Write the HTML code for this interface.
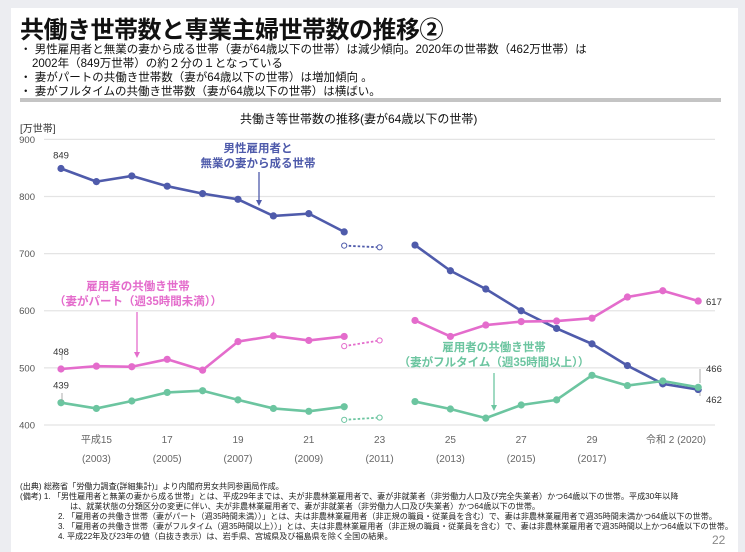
<!DOCTYPE html>
<html><head><meta charset="utf-8">
<style>
body{margin:0;width:745px;height:552px;background:#ecedf1;overflow:hidden;font-family:"Liberation Sans","Noto Sans CJK JP",sans-serif;}
#card{position:absolute;left:11px;top:8px;width:727px;height:544px;background:#fff;}
.abs{position:absolute;white-space:nowrap;}
#title{left:20px;top:10px;font-size:24px;font-weight:bold;color:#111;letter-spacing:-0.5px;}
.b{font-size:11.5px;color:#111;left:20px;}
.n{font-size:8.1px;color:#222;}
</style></head><body>
<div id="card"></div>
<div class="abs" id="title">共働き世帯数と専業主婦世帯数の推移②</div>
<div class="abs b" style="top:41px">・ 男性雇用者と無業の妻から成る世帯（妻が64歳以下の世帯）は減少傾向。2020年の世帯数（462万世帯）は</div>
<div class="abs b" style="top:55px;left:32px">2002年（849万世帯）の約２分の１となっている</div>
<div class="abs b" style="top:69px">・ 妻がパートの共働き世帯数（妻が64歳以下の世帯）は増加傾向 。</div>
<div class="abs b" style="top:83px">・ 妻がフルタイムの共働き世帯数（妻が64歳以下の世帯）は横ばい。</div>
<div class="abs" style="left:20px;top:98px;width:701px;height:4px;background:#c4c4c4"></div>
<div class="abs" style="left:240px;top:110px;font-size:12px;color:#111">共働き等世帯数の推移(妻が64歳以下の世帯)</div>
<div class="abs" style="left:20px;top:120px;font-size:10px;color:#333">[万世帯]</div>

<svg class="abs" style="left:0;top:0" width="745" height="552" id="chart"></svg>

<div class="abs n" style="left:20px;top:481px">(出典) 総務省「労働力調査(詳細集計)」より内閣府男女共同参画局作成。</div>
<div class="abs n" style="left:20px;top:491px">(備考)  1.  「男性雇用者と無業の妻から成る世帯」とは、平成29年までは、夫が非農林業雇用者で、妻が非就業者（非労働力人口及び完全失業者）かつ64歳以下の世帯。平成30年以降</div>
<div class="abs n" style="left:70px;top:501px">は、就業状態の分類区分の変更に伴い、夫が非農林業雇用者で、妻が非就業者（非労働力人口及び失業者）かつ64歳以下の世帯。</div>
<div class="abs n" style="left:58px;top:511px">2.  「雇用者の共働き世帯（妻がパート（週35時間未満））」とは、夫は非農林業雇用者（非正規の職員・従業員を含む）で、妻は非農林業雇用者で週35時間未満かつ64歳以下の世帯。</div>
<div class="abs n" style="left:58px;top:521px">3.  「雇用者の共働き世帯（妻がフルタイム（週35時間以上））」とは、夫は非農林業雇用者（非正規の職員・従業員を含む）で、妻は非農林業雇用者で週35時間以上かつ64歳以下の世帯。</div>
<div class="abs n" style="left:58px;top:531px">4.  平成22年及び23年の値（白抜き表示）は、岩手県、宮城県及び福島県を除く全国の結果。</div>
<div class="abs" style="left:712px;top:533px;font-size:12px;color:#888">22</div>

<script>
const years=[2002,2003,2004,2005,2006,2007,2008,2009,2010,2011,2012,2013,2014,2015,2016,2017,2018,2019,2020];
const maleOnly=[849,826,836,818,805,795,766,770,738,null,715,670,638,600,569,542,504,472,462];
const partTime=[498,503,502,515,496,546,556,548,555,null,583,555,575,581,582,587,624,635,617];
const fullTime=[439,429,442,457,460,444,429,424,432,null,441,428,412,435,444,487,469,477,466];
const openYears=[2010,2011];
const maleOpen=[714,711];
const partOpen=[538,548];
const fullOpen=[409,413];
const yTicks=[400,500,600,700,800,900];
const xTickYears=[2003,2005,2007,2009,2011,2013,2015,2017,2020];
const xTickTop=['平成15','17','19','21','23','25','27','29','令和 2 (2020)'];
const xTickBottom=['(2003)','(2005)','(2007)','(2009)','(2011)','(2013)','(2015)','(2017)',''];

const svg=document.getElementById('chart');
const NS='http://www.w3.org/2000/svg';
const x=yr=>61+(yr-2002)*35.4;
const y=v=>425-(v-400)*0.5713;
function mk(t,a){const e=document.createElementNS(NS,t);for(const k in a)e.setAttribute(k,a[k]);svg.appendChild(e);return e;}
function txt(s,xx,yy,a){const e=mk('text',Object.assign({x:xx,y:yy,'font-size':10,fill:'#444'},a||{}));e.textContent=s;return e;}

yTicks.forEach(v=>{
  const g=mk('line',{x1:44,x2:715,y1:y(v),y2:y(v),stroke:'#e4e4e4','stroke-width':1.3});
  
  
  const t=txt(String(v),35,y(v)+3.5,{'text-anchor':'end','font-size':9.5,fill:'#555'});
  
  
});
xTickYears.forEach((yr,i)=>{
  const xx=i===8?706:x(yr);
  const t=txt(xTickTop[i],xx,443,{'text-anchor':i===8?'end':'middle','font-size':10,fill:'#666'});
  
  
  if(xTickBottom[i]){const b=txt(xTickBottom[i],x(yr),462,{'text-anchor':'middle','font-size':10,fill:'#666'});
  
  }
});

function series(vals,open,color,name){
  let segs=[[]];
  vals.forEach((v,i)=>{if(v===null){segs.push([]);}else segs[segs.length-1].push([x(years[i]),y(v)]);});
  segs.forEach((s,k)=>{
    const p=mk('polyline',{points:s.map(q=>q.join(',')).join(' '),fill:'none',stroke:color,'stroke-width':2.6,'stroke-linejoin':'round'});
    
    
  });
  vals.forEach((v,i)=>{if(v===null)return;
    const c=mk('circle',{cx:x(years[i]),cy:y(v),r:3.6,fill:color});
    
    
  });
  const d=mk('line',{x1:x(openYears[0]),y1:y(open[0]),x2:x(openYears[1]),y2:y(open[1]),stroke:color,'stroke-width':1.8,'stroke-dasharray':'2.5,2'});
  
  
  open.forEach((v,i)=>{
    const c=mk('circle',{cx:x(openYears[i]),cy:y(v),r:2.6,fill:'#fff',stroke:color,'stroke-width':1});
    
    
  });
}
const BLUE='#4f5bab',PINK='#e46ccc',GREEN='#6cc5a0';
series(maleOnly,maleOpen,BLUE,'male-only');
series(partTime,partOpen,PINK,'part-time');
series(fullTime,fullOpen,GREEN,'full-time');

[[String(maleOnly[0]),x(2002),y(maleOnly[0])-10,'middle','label-849'],
 [String(partTime[0]),x(2002),y(partTime[0])-14,'middle','label-498'],
 [String(fullTime[0]),x(2002),y(fullTime[0])-14,'middle','label-439'],
 [String(partTime[18]),706,y(partTime[18])+4,'start','label-617'],
 [String(fullTime[18]),706,372,'start','label-466'],
 [String(maleOnly[18]),706,403,'start','label-462']].forEach(a=>{
  const t=txt(a[0],a[1],a[2],{'text-anchor':a[3],'font-size':9.5,fill:'#333'});
  
  
});
[[62,352,62,360],[62,393,62,401],[700,369,700,383],[700,393,700,396]].forEach((l,i)=>{
  const e=mk('line',{x1:l[0],y1:l[1],x2:l[2],y2:l[3],stroke:'#999','stroke-width':0.8});
  
  
});

function ann(lines,cx,ty,color,ax,ay1,ay2,name){
  lines.forEach((s,i)=>{const t=txt(s,cx,ty+i*15,{'text-anchor':'middle','font-size':11.5,'font-weight':'bold',fill:color});
    
    });
  const l=mk('line',{x1:ax,y1:ay1,x2:ax,y2:ay2-5,stroke:color,'stroke-width':1.3});
  
  
  const h=mk('polygon',{points:`${ax-3},${ay2-6} ${ax+3},${ay2-6} ${ax},${ay2}`,fill:color});
  
  
}
ann(['男性雇用者と','無業の妻から成る世帯'],258,152,BLUE,259,172,206,'male-only-annotation');
ann(['雇用者の共働き世帯','（妻がパート（週35時間未満））'],138,290,PINK,137,312,358,'part-time-annotation');
ann(['雇用者の共働き世帯','（妻がフルタイム（週35時間以上））'],494,351,GREEN,494,373,411,'full-time-annotation');
</script>
</body></html>
